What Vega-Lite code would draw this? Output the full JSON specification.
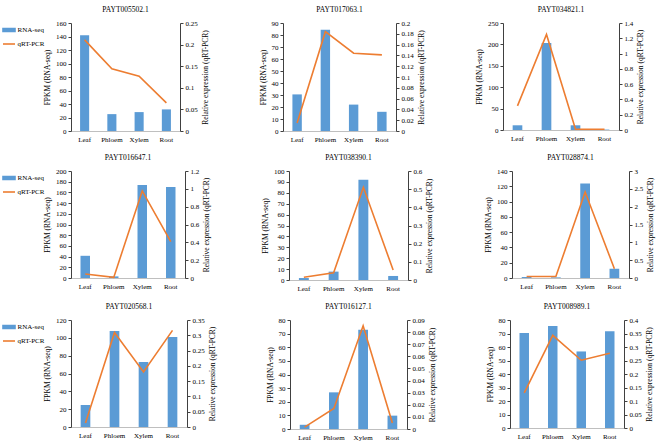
{
  "$schema": "https://vega.github.io/schema/vega-lite/v6.json",
  "padding": {"left": 2, "top": 5, "right": 2, "bottom": 2},
  "background": "white",
  "data": {"values": [
    {"gene": "PAYT005502.1", "tissue": "Leaf", "fpkm": 142, "qpcr": 0.211},
    {"gene": "PAYT005502.1", "tissue": "Phloem", "fpkm": 25, "qpcr": 0.144},
    {"gene": "PAYT005502.1", "tissue": "Xylem", "fpkm": 28, "qpcr": 0.127},
    {"gene": "PAYT005502.1", "tissue": "Root", "fpkm": 32, "qpcr": 0.065},
    {"gene": "PAYT017063.1", "tissue": "Leaf", "fpkm": 30.5, "qpcr": 0.015},
    {"gene": "PAYT017063.1", "tissue": "Phloem", "fpkm": 84.4, "qpcr": 0.184},
    {"gene": "PAYT017063.1", "tissue": "Xylem", "fpkm": 22, "qpcr": 0.144},
    {"gene": "PAYT017063.1", "tissue": "Root", "fpkm": 16, "qpcr": 0.141},
    {"gene": "PAYT034821.1", "tissue": "Leaf", "fpkm": 11, "qpcr": 0.315},
    {"gene": "PAYT034821.1", "tissue": "Phloem", "fpkm": 203, "qpcr": 1.25},
    {"gene": "PAYT034821.1", "tissue": "Xylem", "fpkm": 11, "qpcr": 0.01},
    {"gene": "PAYT034821.1", "tissue": "Root", "fpkm": 1, "qpcr": 0.01},
    {"gene": "PAYT016647.1", "tissue": "Leaf", "fpkm": 41.5, "qpcr": 0.045},
    {"gene": "PAYT016647.1", "tissue": "Phloem", "fpkm": 3, "qpcr": 0.007},
    {"gene": "PAYT016647.1", "tissue": "Xylem", "fpkm": 174, "qpcr": 0.977},
    {"gene": "PAYT016647.1", "tissue": "Root", "fpkm": 170, "qpcr": 0.409},
    {"gene": "PAYT038390.1", "tissue": "Leaf", "fpkm": 1.8, "qpcr": 0.015},
    {"gene": "PAYT038390.1", "tissue": "Phloem", "fpkm": 7.7, "qpcr": 0.04},
    {"gene": "PAYT038390.1", "tissue": "Xylem", "fpkm": 92, "qpcr": 0.51},
    {"gene": "PAYT038390.1", "tissue": "Root", "fpkm": 3.7, "qpcr": 0.055},
    {"gene": "PAYT028874.1", "tissue": "Leaf", "fpkm": 1.3, "qpcr": 0.04},
    {"gene": "PAYT028874.1", "tissue": "Phloem", "fpkm": 0.8, "qpcr": 0.04},
    {"gene": "PAYT028874.1", "tissue": "Xylem", "fpkm": 123.5, "qpcr": 2.41},
    {"gene": "PAYT028874.1", "tissue": "Root", "fpkm": 12.1, "qpcr": 0.26},
    {"gene": "PAYT020568.1", "tissue": "Leaf", "fpkm": 24.7, "qpcr": 0.013},
    {"gene": "PAYT020568.1", "tissue": "Phloem", "fpkm": 107.7, "qpcr": 0.309},
    {"gene": "PAYT020568.1", "tissue": "Xylem", "fpkm": 72.9, "qpcr": 0.18},
    {"gene": "PAYT020568.1", "tissue": "Root", "fpkm": 100.9, "qpcr": 0.316},
    {"gene": "PAYT016127.1", "tissue": "Leaf", "fpkm": 3.1, "qpcr": 0.0016},
    {"gene": "PAYT016127.1", "tissue": "Phloem", "fpkm": 26.9, "qpcr": 0.0169},
    {"gene": "PAYT016127.1", "tissue": "Xylem", "fpkm": 72.9, "qpcr": 0.0852},
    {"gene": "PAYT016127.1", "tissue": "Root", "fpkm": 9.8, "qpcr": 0.005},
    {"gene": "PAYT008989.1", "tissue": "Leaf", "fpkm": 70.3, "qpcr": 0.13},
    {"gene": "PAYT008989.1", "tissue": "Phloem", "fpkm": 75.5, "qpcr": 0.343},
    {"gene": "PAYT008989.1", "tissue": "Xylem", "fpkm": 56.7, "qpcr": 0.251},
    {"gene": "PAYT008989.1", "tissue": "Root", "fpkm": 71.6, "qpcr": 0.277}
  ]},
  "resolve": {"scale": {"color": "independent"}, "legend": {"color": "independent"}},
  "spacing": 11,
  "vconcat": [
    {
      "spacing": 50,
      "hconcat": [
        {
          "title": "PAYT005502.1", "width": 109, "height": 108,
          "transform": [{"filter": "datum.gene === 'PAYT005502.1'"}],
          "encoding": {"x": {"field": "tissue", "type": "nominal", "sort": ["Leaf", "Phloem", "Xylem", "Root"], "scale": {"paddingInner": 0.667, "paddingOuter": 0.333}, "axis": {"title": null, "labelAngle": 0, "ticks": false, "domainColor": "#bfbfbf", "labelPadding": 4}}},
          "layer": [
            {"mark": {"type": "bar"}, "encoding": {
              "y": {"field": "fpkm", "type": "quantitative", "scale": {"domain": [0, 160], "nice": false}, "axis": {"title": "FPKM  (RNA-seq)", "values": [0, 20, 40, 60, 80, 100, 120, 140, 160]}},
              "color": {"datum": "RNA-seq", "scale": {"domain": ["RNA-seq", "qRT-PCR"], "range": ["#5B9BD5", "#ED7D31"]}, "legend": {"title": null, "encoding": {"symbols": {"shape": {"value": {"expr": "datum.value === 'RNA-seq' ? 'M-1,-0.25H1V0.25H-1Z' : 'stroke'"}}, "fill": {"value": {"expr": "datum.value === 'RNA-seq' ? '#5B9BD5' : 'transparent'"}}, "stroke": {"value": {"expr": "datum.value === 'RNA-seq' ? 'transparent' : '#ED7D31'"}}, "strokeWidth": {"value": 1.6}}}}}}},
            {"mark": {"type": "line", "strokeWidth": 1.6}, "encoding": {
              "y": {"field": "qpcr", "type": "quantitative", "scale": {"domain": [0, 0.25], "nice": false}, "axis": {"orient": "right", "title": "Relative expression (qRT-PCR)", "titleAngle": 270, "titleBaseline": "top", "values": [0, 0.05, 0.1, 0.15, 0.2, 0.25]}},
              "color": {"datum": "qRT-PCR", "scale": {"domain": ["RNA-seq", "qRT-PCR"], "range": ["#5B9BD5", "#ED7D31"]}, "legend": {"title": null, "encoding": {"symbols": {"shape": {"value": {"expr": "datum.value === 'RNA-seq' ? 'M-1,-0.25H1V0.25H-1Z' : 'stroke'"}}, "fill": {"value": {"expr": "datum.value === 'RNA-seq' ? '#5B9BD5' : 'transparent'"}}, "stroke": {"value": {"expr": "datum.value === 'RNA-seq' ? 'transparent' : '#ED7D31'"}}, "strokeWidth": {"value": 1.6}}}}}}}
          ],
          "resolve": {"scale": {"y": "independent"}}
        },
        {
          "title": "PAYT017063.1", "width": 113, "height": 108,
          "transform": [{"filter": "datum.gene === 'PAYT017063.1'"}],
          "encoding": {"x": {"field": "tissue", "type": "nominal", "sort": ["Leaf", "Phloem", "Xylem", "Root"], "scale": {"paddingInner": 0.667, "paddingOuter": 0.333}, "axis": {"title": null, "labelAngle": 0, "ticks": false, "domainColor": "#bfbfbf", "labelPadding": 4}}},
          "layer": [
            {"mark": {"type": "bar", "color": "#5B9BD5"}, "encoding": {"y": {"field": "fpkm", "type": "quantitative", "scale": {"domain": [0, 90], "nice": false}, "axis": {"title": "FPKM  (RNA-seq)", "values": [0, 10, 20, 30, 40, 50, 60, 70, 80, 90]}}}},
            {"mark": {"type": "line", "color": "#ED7D31", "strokeWidth": 1.6}, "encoding": {"y": {"field": "qpcr", "type": "quantitative", "scale": {"domain": [0, 0.2], "nice": false}, "axis": {"orient": "right", "title": "Relative expression (qRT-PCR)", "titleAngle": 270, "titleBaseline": "top", "values": [0, 0.02, 0.04, 0.06, 0.08, 0.1, 0.12, 0.14, 0.16, 0.18, 0.2]}}}}
          ],
          "resolve": {"scale": {"y": "independent"}}
        },
        {
          "title": "PAYT034821.1", "width": 116, "height": 107,
          "transform": [{"filter": "datum.gene === 'PAYT034821.1'"}],
          "encoding": {"x": {"field": "tissue", "type": "nominal", "sort": ["Leaf", "Phloem", "Xylem", "Root"], "scale": {"paddingInner": 0.667, "paddingOuter": 0.333}, "axis": {"title": null, "labelAngle": 0, "ticks": false, "domainColor": "#bfbfbf", "labelPadding": 4}}},
          "layer": [
            {"mark": {"type": "bar", "color": "#5B9BD5"}, "encoding": {"y": {"field": "fpkm", "type": "quantitative", "scale": {"domain": [0, 250], "nice": false}, "axis": {"title": "FPKM  (RNA-seq)", "values": [0, 50, 100, 150, 200, 250]}}}},
            {"mark": {"type": "line", "color": "#ED7D31", "strokeWidth": 1.6}, "encoding": {"y": {"field": "qpcr", "type": "quantitative", "scale": {"domain": [0, 1.4], "nice": false}, "axis": {"orient": "right", "title": "Relative expression (qRT-PCR)", "titleAngle": 270, "titleBaseline": "top", "values": [0, 0.2, 0.4, 0.6, 0.8, 1, 1.2, 1.4]}}}}
          ],
          "resolve": {"scale": {"y": "independent"}}
        }
      ]
    },
    {
      "spacing": 50,
      "hconcat": [
        {
          "title": "PAYT016647.1", "width": 114, "height": 107,
          "transform": [{"filter": "datum.gene === 'PAYT016647.1'"}],
          "encoding": {"x": {"field": "tissue", "type": "nominal", "sort": ["Leaf", "Phloem", "Xylem", "Root"], "scale": {"paddingInner": 0.667, "paddingOuter": 0.333}, "axis": {"title": null, "labelAngle": 0, "ticks": false, "domainColor": "#bfbfbf", "labelPadding": 4}}},
          "layer": [
            {"mark": {"type": "bar"}, "encoding": {
              "y": {"field": "fpkm", "type": "quantitative", "scale": {"domain": [0, 200], "nice": false}, "axis": {"title": "FPKM  (RNA-seq)", "values": [0, 20, 40, 60, 80, 100, 120, 140, 160, 180, 200]}},
              "color": {"datum": "RNA-seq", "scale": {"domain": ["RNA-seq", "qRT-PCR"], "range": ["#5B9BD5", "#ED7D31"]}, "legend": {"title": null, "encoding": {"symbols": {"shape": {"value": {"expr": "datum.value === 'RNA-seq' ? 'M-1,-0.25H1V0.25H-1Z' : 'stroke'"}}, "fill": {"value": {"expr": "datum.value === 'RNA-seq' ? '#5B9BD5' : 'transparent'"}}, "stroke": {"value": {"expr": "datum.value === 'RNA-seq' ? 'transparent' : '#ED7D31'"}}, "strokeWidth": {"value": 1.6}}}}}}},
            {"mark": {"type": "line", "strokeWidth": 1.6}, "encoding": {
              "y": {"field": "qpcr", "type": "quantitative", "scale": {"domain": [0, 1.2], "nice": false}, "axis": {"orient": "right", "title": "Relative expression (qRT-PCR)", "titleAngle": 270, "titleBaseline": "top", "values": [0, 0.2, 0.4, 0.6, 0.8, 1, 1.2]}},
              "color": {"datum": "qRT-PCR", "scale": {"domain": ["RNA-seq", "qRT-PCR"], "range": ["#5B9BD5", "#ED7D31"]}, "legend": {"title": null, "encoding": {"symbols": {"shape": {"value": {"expr": "datum.value === 'RNA-seq' ? 'M-1,-0.25H1V0.25H-1Z' : 'stroke'"}}, "fill": {"value": {"expr": "datum.value === 'RNA-seq' ? '#5B9BD5' : 'transparent'"}}, "stroke": {"value": {"expr": "datum.value === 'RNA-seq' ? 'transparent' : '#ED7D31'"}}, "strokeWidth": {"value": 1.6}}}}}}}
          ],
          "resolve": {"scale": {"y": "independent"}}
        },
        {
          "title": "PAYT038390.1", "width": 119, "height": 109,
          "transform": [{"filter": "datum.gene === 'PAYT038390.1'"}],
          "encoding": {"x": {"field": "tissue", "type": "nominal", "sort": ["Leaf", "Phloem", "Xylem", "Root"], "scale": {"paddingInner": 0.667, "paddingOuter": 0.333}, "axis": {"title": null, "labelAngle": 0, "ticks": false, "domainColor": "#bfbfbf", "labelPadding": 4}}},
          "layer": [
            {"mark": {"type": "bar", "color": "#5B9BD5"}, "encoding": {"y": {"field": "fpkm", "type": "quantitative", "scale": {"domain": [0, 100], "nice": false}, "axis": {"title": "FPKM  (RNA-seq)", "values": [0, 10, 20, 30, 40, 50, 60, 70, 80, 90, 100]}}}},
            {"mark": {"type": "line", "color": "#ED7D31", "strokeWidth": 1.6}, "encoding": {"y": {"field": "qpcr", "type": "quantitative", "scale": {"domain": [0, 0.6], "nice": false}, "axis": {"orient": "right", "title": "Relative expression (qRT-PCR)", "titleAngle": 270, "titleBaseline": "top", "values": [0, 0.1, 0.2, 0.3, 0.4, 0.5, 0.6]}}}}
          ],
          "resolve": {"scale": {"y": "independent"}}
        },
        {
          "title": "PAYT028874.1", "width": 117, "height": 107,
          "transform": [{"filter": "datum.gene === 'PAYT028874.1'"}],
          "encoding": {"x": {"field": "tissue", "type": "nominal", "sort": ["Leaf", "Phloem", "Xylem", "Root"], "scale": {"paddingInner": 0.667, "paddingOuter": 0.333}, "axis": {"title": null, "labelAngle": 0, "ticks": false, "domainColor": "#bfbfbf", "labelPadding": 4}}},
          "layer": [
            {"mark": {"type": "bar", "color": "#5B9BD5"}, "encoding": {"y": {"field": "fpkm", "type": "quantitative", "scale": {"domain": [0, 140], "nice": false}, "axis": {"title": "FPKM  (RNA-seq)", "values": [0, 20, 40, 60, 80, 100, 120, 140]}}}},
            {"mark": {"type": "line", "color": "#ED7D31", "strokeWidth": 1.6}, "encoding": {"y": {"field": "qpcr", "type": "quantitative", "scale": {"domain": [0, 3], "nice": false}, "axis": {"orient": "right", "title": "Relative expression (qRT-PCR)", "titleAngle": 270, "titleBaseline": "top", "values": [0, 0.5, 1, 1.5, 2, 2.5, 3]}}}}
          ],
          "resolve": {"scale": {"y": "independent"}}
        }
      ]
    },
    {
      "spacing": 50,
      "hconcat": [
        {
          "title": "PAYT020568.1", "width": 116, "height": 107,
          "transform": [{"filter": "datum.gene === 'PAYT020568.1'"}],
          "encoding": {"x": {"field": "tissue", "type": "nominal", "sort": ["Leaf", "Phloem", "Xylem", "Root"], "scale": {"paddingInner": 0.667, "paddingOuter": 0.333}, "axis": {"title": null, "labelAngle": 0, "ticks": false, "domainColor": "#bfbfbf", "labelPadding": 4}}},
          "layer": [
            {"mark": {"type": "bar"}, "encoding": {
              "y": {"field": "fpkm", "type": "quantitative", "scale": {"domain": [0, 120], "nice": false}, "axis": {"title": "FPKM  (RNA-seq)", "values": [0, 20, 40, 60, 80, 100, 120]}},
              "color": {"datum": "RNA-seq", "scale": {"domain": ["RNA-seq", "qRT-PCR"], "range": ["#5B9BD5", "#ED7D31"]}, "legend": {"title": null, "encoding": {"symbols": {"shape": {"value": {"expr": "datum.value === 'RNA-seq' ? 'M-1,-0.25H1V0.25H-1Z' : 'stroke'"}}, "fill": {"value": {"expr": "datum.value === 'RNA-seq' ? '#5B9BD5' : 'transparent'"}}, "stroke": {"value": {"expr": "datum.value === 'RNA-seq' ? 'transparent' : '#ED7D31'"}}, "strokeWidth": {"value": 1.6}}}}}}},
            {"mark": {"type": "line", "strokeWidth": 1.6}, "encoding": {
              "y": {"field": "qpcr", "type": "quantitative", "scale": {"domain": [0, 0.35], "nice": false}, "axis": {"orient": "right", "title": "Relative expression (qRT-PCR)", "titleAngle": 270, "titleBaseline": "top", "values": [0, 0.05, 0.1, 0.15, 0.2, 0.25, 0.3, 0.35]}},
              "color": {"datum": "qRT-PCR", "scale": {"domain": ["RNA-seq", "qRT-PCR"], "range": ["#5B9BD5", "#ED7D31"]}, "legend": {"title": null, "encoding": {"symbols": {"shape": {"value": {"expr": "datum.value === 'RNA-seq' ? 'M-1,-0.25H1V0.25H-1Z' : 'stroke'"}}, "fill": {"value": {"expr": "datum.value === 'RNA-seq' ? '#5B9BD5' : 'transparent'"}}, "stroke": {"value": {"expr": "datum.value === 'RNA-seq' ? 'transparent' : '#ED7D31'"}}, "strokeWidth": {"value": 1.6}}}}}}}
          ],
          "resolve": {"scale": {"y": "independent"}}
        },
        {
          "title": "PAYT016127.1", "width": 117, "height": 109,
          "transform": [{"filter": "datum.gene === 'PAYT016127.1'"}],
          "encoding": {"x": {"field": "tissue", "type": "nominal", "sort": ["Leaf", "Phloem", "Xylem", "Root"], "scale": {"paddingInner": 0.667, "paddingOuter": 0.333}, "axis": {"title": null, "labelAngle": 0, "ticks": false, "domainColor": "#bfbfbf", "labelPadding": 4}}},
          "layer": [
            {"mark": {"type": "bar", "color": "#5B9BD5"}, "encoding": {"y": {"field": "fpkm", "type": "quantitative", "scale": {"domain": [0, 80], "nice": false}, "axis": {"title": "FPKM  (RNA-seq)", "values": [0, 10, 20, 30, 40, 50, 60, 70, 80]}}}},
            {"mark": {"type": "line", "color": "#ED7D31", "strokeWidth": 1.6}, "encoding": {"y": {"field": "qpcr", "type": "quantitative", "scale": {"domain": [0, 0.09], "nice": false}, "axis": {"orient": "right", "title": "Relative expression (qRT-PCR)", "titleAngle": 270, "titleBaseline": "top", "values": [0, 0.01, 0.02, 0.03, 0.04, 0.05, 0.06, 0.07, 0.08, 0.09]}}}}
          ],
          "resolve": {"scale": {"y": "independent"}}
        },
        {
          "title": "PAYT008989.1", "width": 114, "height": 108,
          "transform": [{"filter": "datum.gene === 'PAYT008989.1'"}],
          "encoding": {"x": {"field": "tissue", "type": "nominal", "sort": ["Leaf", "Phloem", "Xylem", "Root"], "scale": {"paddingInner": 0.667, "paddingOuter": 0.333}, "axis": {"title": null, "labelAngle": 0, "ticks": false, "domainColor": "#bfbfbf", "labelPadding": 4}}},
          "layer": [
            {"mark": {"type": "bar", "color": "#5B9BD5"}, "encoding": {"y": {"field": "fpkm", "type": "quantitative", "scale": {"domain": [0, 80], "nice": false}, "axis": {"title": "FPKM  (RNA-seq)", "values": [0, 10, 20, 30, 40, 50, 60, 70, 80]}}}},
            {"mark": {"type": "line", "color": "#ED7D31", "strokeWidth": 1.6}, "encoding": {"y": {"field": "qpcr", "type": "quantitative", "scale": {"domain": [0, 0.4], "nice": false}, "axis": {"orient": "right", "title": "Relative expression (qRT-PCR)", "titleAngle": 270, "titleBaseline": "top", "values": [0, 0.05, 0.1, 0.15, 0.2, 0.25, 0.3, 0.35, 0.4]}}}}
          ],
          "resolve": {"scale": {"y": "independent"}}
        }
      ]
    }
  ],
  "config": {
    "font": "Liberation Serif",
    "view": {"stroke": null},
    "axis": {"labelFont": "Liberation Serif", "titleFont": "Liberation Serif", "labelFontSize": 7, "titleFontSize": 7.5, "titleFontWeight": "normal", "labelColor": "#000000", "titleColor": "#000000", "grid": false, "labelPadding": 2, "titlePadding": 4},
    "axisY": {"domainColor": "#404040", "tickColor": "#404040", "tickSize": 3, "labelFlush": false, "labelExpr": "format(datum.value, '.4~f')"},
    "title": {"font": "Liberation Serif", "fontSize": 7.5, "fontWeight": "normal", "offset": 6, "color": "#000000"},
    "legend": {"orient": "left", "offset": -2, "labelFont": "Liberation Serif", "labelFontSize": 7, "labelColor": "#000000", "symbolSize": 144, "labelOffset": 1.5, "rowPadding": 2, "padding": 0}
  }
}
